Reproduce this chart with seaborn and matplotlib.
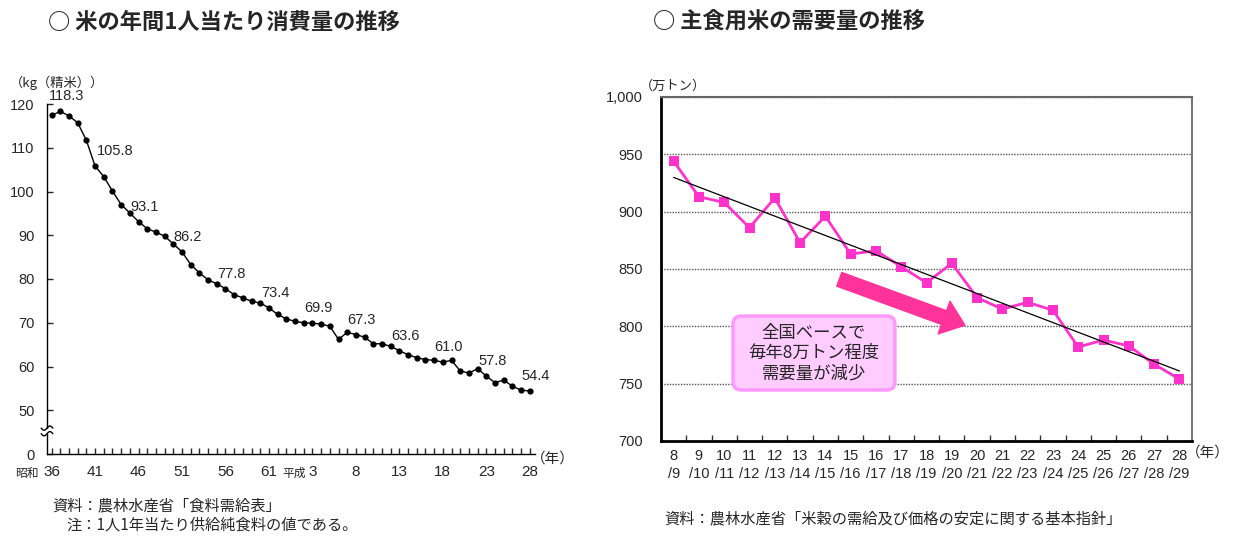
import numpy as np
import pandas as pd
import matplotlib
matplotlib.use("Agg")
import matplotlib.pyplot as plt
from matplotlib.patches import FancyBboxPatch
import seaborn as sns

# left: 米の年間1人当たり消費量 (昭和36年〜平成28年, kg)
consumption = [117.4, 118.3, 117.3, 115.7, 111.7, 105.8, 103.4, 100.1, 97.0, 95.1,
               93.1, 91.5, 90.7, 89.8, 88.0, 86.2, 83.3, 81.4, 79.8, 78.9,
               77.8, 76.4, 75.7, 74.9, 74.5, 73.4, 71.9, 70.9, 70.3, 70.0,
               69.9, 69.7, 69.2, 66.2, 67.8, 67.3, 66.7, 65.2, 65.2, 64.6,
               63.6, 62.7, 62.0, 61.6, 61.4, 61.0, 61.4, 59.0, 58.5, 59.5,
               57.8, 56.3, 56.9, 55.5, 54.6, 54.4]
left_year_labels = ['36', '41', '46', '51', '56', '61', '3', '8', '13', '18', '23', '28']
labeled_points = [1, 5, 10, 15, 20, 25, 30, 35, 40, 45, 50, 55]
left_yticks = [0, 50, 60, 70, 80, 90, 100, 110, 120]

# right: 主食用米の需要量 (万トン)
years_from = ['8', '9', '10', '11', '12', '13', '14', '15', '16', '17', '18',
              '19', '20', '21', '22', '23', '24', '25', '26', '27', '28']
years_to = ['9', '10', '11', '12', '13', '14', '15', '16', '17', '18', '19',
            '20', '21', '22', '23', '24', '25', '26', '27', '28', '29']
demand = [944, 913, 908, 886, 912, 873, 896, 863, 866, 852, 838,
          855, 825, 815, 821, 814, 782, 788, 783, 767, 754]

sns.set_style('white')
plt.rcParams['font.family'] = ['Liberation Sans', 'Noto Sans CJK JP']
JP = ['Noto Sans CJK JP', 'DejaVu Sans']

W, H = 1235, 548
fig = plt.figure(figsize=(W / 100, H / 100), dpi=100)


def fx(px):
    return px / W


def fy(py):
    return 1 - py / H


# ---------------- left chart ----------------
ax1 = fig.add_axes([fx(47), fy(454), 488 / W, 350 / H])


def fwd(v):
    v = np.asarray(v, dtype=float)
    return np.where(v >= 50, v - 40, v / 5)


def inv(u):
    u = np.asarray(u, dtype=float)
    return np.where(u >= 10, u + 40, u * 5)


ax1.set_yscale('function', functions=(fwd, inv))
df_l = pd.DataFrame({'idx': np.arange(len(consumption)), 'kg': consumption})
sns.lineplot(data=df_l, x='idx', y='kg', ax=ax1, color='black', lw=1,
             marker='o', markersize=4.5, markeredgewidth=0)
ax1.set_ylim(0, 120)
ax1.set_xlim(-0.53, 55.6)
ax1.set_xlabel('')
ax1.set_ylabel('')
for s in ['top', 'right']:
    ax1.spines[s].set_visible(False)
for s in ['left', 'bottom']:
    ax1.spines[s].set_color('black')
    ax1.spines[s].set_linewidth(1)

ax1.set_yticks(left_yticks)
ax1.set_yticklabels([str(t) for t in left_yticks])
ax1.yaxis.set_minor_locator(matplotlib.ticker.NullLocator())
xt_labels = []
k = 0
for i in range(len(consumption)):
    if i % 5 == 0:
        xt_labels.append(left_year_labels[k])
        k += 1
    else:
        xt_labels.append('')
ax1.set_xticks(range(len(consumption)))
ax1.set_xticklabels(xt_labels)
ax1.tick_params(axis='y', direction='in', length=4, width=1, pad=9,
                labelsize=10.5, left=True)
ax1.tick_params(axis='x', direction='in', length=4, width=1, pad=8,
                labelsize=11, bottom=True)

for i in labeled_points:
    dx = 20 if i == 5 else 6
    ax1.annotate(f'{consumption[i]:.1f}', xy=(i, consumption[i]),
                 xytext=(dx, 15), textcoords='offset pixels',
                 ha='center', va='center', fontsize=10.5)

# axis break marks
t = np.linspace(-0.012, 0.012, 30)
for yb in [0.058, 0.074]:
    ax1.plot(t, yb + 0.006 * np.sin(t / 0.012 * np.pi), transform=ax1.transAxes,
             color='black', lw=1, clip_on=False, zorder=5)
ax1.add_patch(plt.Rectangle((-0.004, 0.061), 0.008, 0.010, transform=ax1.transAxes,
                            color='white', clip_on=False, zorder=4))

ax1.annotate('昭和', xy=(0, 0), xycoords=('data', 'axes fraction'),
             xytext=(-13, -19), textcoords='offset pixels',
             ha='right', va='center', fontsize=8.5, family=JP)
ax1.annotate('平成', xy=(30, 0), xycoords=('data', 'axes fraction'),
             xytext=(-7, -19), textcoords='offset pixels',
             ha='right', va='center', fontsize=8.5, family=JP)
fig.text(fx(57), fy(83), '（kg（精米））', ha='center', va='center', fontsize=9.5,
         family=JP)
fig.text(fx(553), fy(459), '（年）', ha='center', va='center', fontsize=10.5,
         family=JP)

# ---------------- right chart ----------------
ax2 = fig.add_axes([fx(661), fy(441), 531 / W, 344 / H])
df_r = pd.DataFrame({'idx': np.arange(len(demand)), 'demand': demand})
sns.lineplot(data=df_r, x='idx', y='demand', ax=ax2, color='#ff33cc', lw=2,
             marker='s', markersize=7.5, markeredgewidth=0, zorder=3)
sns.regplot(data=df_r, x='idx', y='demand', ax=ax2, scatter=False, ci=None,
            color='black', line_kws={'lw': 0.9, 'zorder': 4})
ax2.set_xlim(-0.5, len(demand) - 0.5)
ax2.set_ylim(700, 1000)
ax2.set_xlabel('')
ax2.set_ylabel('')

ax2.set_yticks(range(700, 1001, 50))
ax2.set_yticklabels([f'{v:,}' for v in range(700, 1001, 50)])
ax2.yaxis.grid(True, linestyle=(0, (1, 1)), color='#555555', lw=1)
ax2.xaxis.grid(False)
ax2.set_xticks(range(len(demand)))
ax2.set_xticklabels([f'{a}\n/{b}' for a, b in zip(years_from, years_to)],
                    linespacing=1.35)
ax2.set_xticks(np.arange(0.5, len(demand) - 1, 1), minor=True)
ax2.tick_params(axis='y', length=0, pad=13, labelsize=10.5)
ax2.tick_params(axis='x', which='major', length=0, pad=6, labelsize=10.5)
ax2.tick_params(axis='x', which='minor', direction='in', length=4, width=1,
                color='#333333', bottom=True)
ax2.spines['left'].set_color('black')
ax2.spines['left'].set_linewidth(2)
ax2.spines['bottom'].set_color('black')
ax2.spines['bottom'].set_linewidth(2)
ax2.spines['top'].set_color('#666666')
ax2.spines['top'].set_linewidth(1.5)
ax2.spines['right'].set_color('#777777')
ax2.spines['right'].set_linewidth(1.5)

# big pink arrow
ax2.annotate('', xy=(11.52, 801), xytext=(6.55, 841),
             arrowprops=dict(arrowstyle='simple,head_length=1.6,head_width=2.5,tail_width=1.05',
                             color='#ff3399', mutation_scale=10,
                             shrinkA=0, shrinkB=0), zorder=5)

# note box
aspect = (300 / 344) / (21 / 531)
box = FancyBboxPatch((2.35, 744.5), 6.4, 64.5,
                     boxstyle='round,pad=0,rounding_size=0.32',
                     mutation_aspect=aspect, fc='#ffccff', ec='#ff99ff',
                     lw=2.5, zorder=5)
ax2.add_patch(box)
ax2.text(5.55, 776.5, '全国ベースで\n毎年8万トン程度\n需要量が減少',
         ha='center', va='center', fontsize=12.5, linespacing=1.15, zorder=6,
         family=JP)

fig.text(fx(673), fy(86), '（万トン）', ha='center', va='center', fontsize=9.5,
         family=JP)
fig.text(fx(1208), fy(453), '（年）', ha='center', va='center', fontsize=10.5,
         family=JP)

# ---------------- titles and notes ----------------
fig.text(fx(48), fy(22), '○ 米の年間1人当たり消費量の推移', ha='left', va='center',
         fontsize=16, fontweight='bold', family=JP)
fig.text(fx(653), fy(22), '○ 主食用米の需要量の推移', ha='left', va='center',
         fontsize=16, fontweight='bold', family=JP)
fig.text(fx(52), fy(506), '資料：農林水産省「食料需給表」', ha='left', va='center',
         fontsize=11, family=JP)
fig.text(fx(66), fy(525), '注：1人1年当たり供給純食料の値である。', ha='left',
         va='center', fontsize=11, family=JP)
fig.text(fx(664), fy(519), '資料：農林水産省「米穀の需給及び価格の安定に関する基本指針」',
         ha='left', va='center', fontsize=11, family=JP)

fig.savefig('out.png', dpi=100)
